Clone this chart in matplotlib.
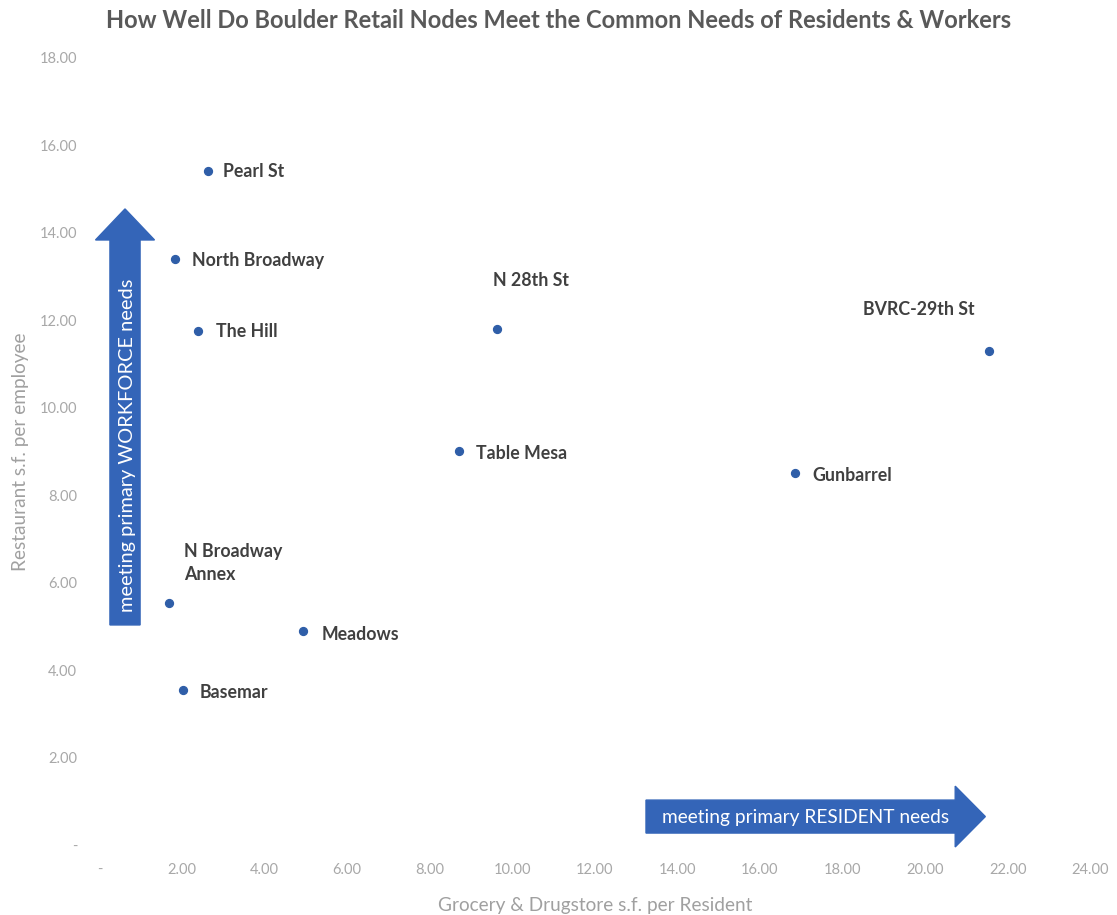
import matplotlib.pyplot as plt
from matplotlib.patches import FancyArrow

# data
nodes = ["Pearl St", "North Broadway", "The Hill", "N 28th St", "BVRC-29th St",
         "Table Mesa", "Gunbarrel", "N Broadway\nAnnex", "Meadows", "Basemar"]
grocery = [2.63, 1.83, 2.39, 9.63, 21.55, 8.71, 16.85, 1.68, 4.93, 2.02]
restaurant = [15.40, 13.40, 11.75, 11.80, 11.30, 9.00, 8.50, 5.53, 4.89, 3.54]

# label offsets in pixels (dx, dy) and alignment
label_pos = [(15, 0, 'left'), (17, -2, 'left'), (18, -1, 'left'), (-4, 48, 'left'),
             (-14, 41, 'right'), (17, -2, 'left'), (17, -2, 'left'), (15, 40, 'left'),
             (19, -3, 'left'), (17, -2, 'left')]

xticks = list(range(0, 26, 2))
yticks = list(range(0, 20, 2))

plt.rcParams['font.family'] = ['Lato', 'DejaVu Sans']

fig = plt.figure(figsize=(11.17, 9.15), dpi=100)
ax = fig.add_axes([0.089, 0.0765, 0.887, 0.8606])

ax.scatter(grocery, restaurant, s=32, color='#2f5ea8', zorder=3)
for name, x, y, (dx, dy, ha) in zip(nodes, grocery, restaurant, label_pos):
    ax.annotate(name, (x, y), xytext=(dx, dy), textcoords='offset pixels',
                ha=ha, va='center', fontsize=12.8, fontweight='bold',
                color='#404040', linespacing=1.4)

ax.set_xlim(0, 24)
ax.set_ylim(0, 18)
ax.set_xticks(xticks)
ax.set_yticks(yticks)
ax.set_xticklabels(['-' if t == 0 else f'{t:.2f}' for t in xticks])
ax.set_yticklabels(['-' if t == 0 else f'{t:.2f}' for t in yticks])
ax.tick_params(length=0, labelsize=10.5, labelcolor='#a8a8a8')
ax.tick_params(axis='x', pad=13)
ax.tick_params(axis='y', pad=16)
for s in ax.spines.values():
    s.set_visible(False)

ax.set_xlabel('Grocery & Drugstore s.f. per Resident', fontsize=13.7,
              color='#a0a0a0', labelpad=14)
ax.set_ylabel('Restaurant s.f. per employee', fontsize=13.7,
              color='#a0a0a0', labelpad=8)

fig.suptitle('How Well Do Boulder Retail Nodes Meet the Common Needs of Residents & Workers',
             x=0.5, y=0.99, fontsize=17, fontweight='bold', color='#595959')

# the two direction arrows
blue = '#3465b8'
up = FancyArrow(0.62, 5.03, 0, 9.51, width=0.73, head_width=1.43,
                head_length=0.71, length_includes_head=True, color=blue,
                clip_on=False, zorder=2)
ax.add_patch(up)
ax.text(0.68, 9.14, 'meeting primary WORKFORCE needs', rotation=90, color='white',
        fontsize=14.4, ha='center', va='center', zorder=4)

right = FancyArrow(13.24, 0.65, 8.22, 0, width=0.754, head_width=1.39,
                   head_length=0.73, length_includes_head=True, color=blue,
                   clip_on=False, zorder=2)
ax.add_patch(right)
ax.text(17.1, 0.62, 'meeting primary RESIDENT needs', color='white',
        fontsize=13.8, ha='center', va='center', zorder=4)

fig.savefig('out.png', dpi=100)
